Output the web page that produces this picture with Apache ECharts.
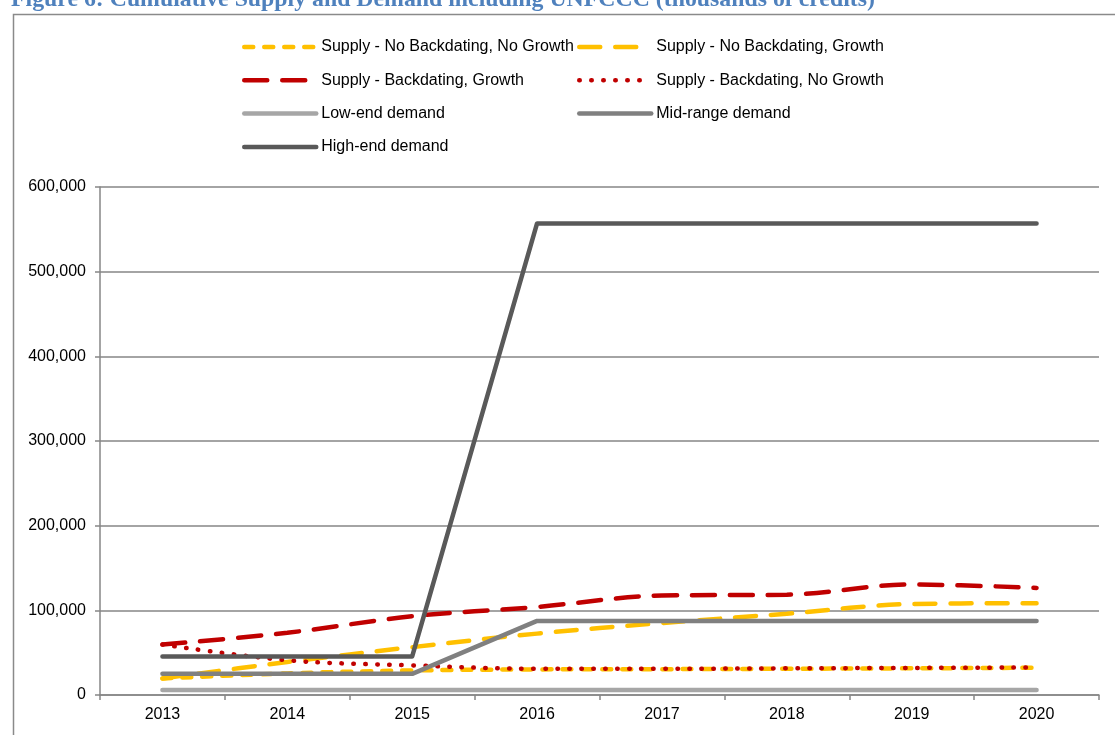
<!DOCTYPE html>
<html>
<head>
<meta charset="utf-8">
<script src="https://cdn.jsdelivr.net/npm/echarts@6/dist/echarts.min.js"></script>
<style>
  html, body { margin: 0; padding: 0; background: #ffffff; }
  #chart { width: 1115px; height: 735px; }
</style>
</head>
<body>
<div id="chart"></div>
<script>
// Years on the category axis
const years = ['2013', '2014', '2015', '2016', '2017', '2018', '2019', '2020'];

// Cumulative supply scenarios (thousands of credits)
const supplyNoBackNoGrowth = [19600, 25500, 29000, 30200, 30500, 31000, 31500, 32200];
const supplyNoBackGrowth   = [19600, 39000, 56500, 72500, 85000, 96000, 107500, 108500];
const supplyBackGrowth     = [59600, 73500, 93000, 104000, 117500, 118500, 130500, 126500];
const supplyBackNoGrowth   = [59600, 41000, 35000, 31000, 31000, 31500, 32000, 32500];

// Demand scenarios (thousands of credits)
const demandLow  = [5900, 5900, 5900, 5900, 5900, 5900, 5900, 5900];
const demandMid  = [25000, 25000, 25000, 87500, 87500, 87500, 87500, 87500];
const demandHigh = [45500, 45500, 45500, 557000, 557000, 557000, 557000, 557000];

// Series names used in the legend
const names = [
  'Supply - No Backdating, No Growth',
  'Supply - No Backdating, Growth',
  'Supply - Backdating, Growth',
  'Supply - Backdating, No Growth',
  'Low-end demand',
  'Mid-range demand',
  'High-end demand'
];

const titleText = 'Figure 6: Cumulative Supply and Demand including UNFCCC (thousands of credits)';

const YELLOW = '#FFC000';
const RED = '#C00000';
const axisGray = '#868686';
const font = 'Liberation Sans, Arial, sans-serif';

function supply(name, data, color, dash) {
  return {
    name: name, type: 'line', data: data, smooth: 0.35,
    symbol: 'none',
    lineStyle: { color: color, width: 4.5, type: dash, cap: 'round' },
    itemStyle: { color: color }
  };
}
function demand(name, data, color) {
  return {
    name: name, type: 'line', data: data, smooth: false,
    symbol: 'none',
    lineStyle: { color: color, width: 4.5, type: 'solid', cap: 'round', join: 'round' },
    itemStyle: { color: color }
  };
}

// Two stacked legend columns, drawn as plain line samples (marker hidden)
const legendCommon = {
  orient: 'vertical',
  top: 39,
  padding: 0,
  itemWidth: 72,
  itemHeight: 16,
  itemGap: 17.3,
  itemStyle: { opacity: 0 },
  lineStyle: { width: 4.5, cap: 'round' },
  textStyle: { fontFamily: font, fontSize: 16, color: '#000000' },
  selectedMode: false
};

const chart = echarts.init(document.getElementById('chart'), null, { renderer: 'canvas' });
chart.setOption({
  backgroundColor: '#ffffff',
  animation: false,
  graphic: [
    {
      type: 'rect', left: 11, top: 12,
      shape: { x: 0, y: 0, width: 1200, height: 800 },
      style: { fill: 'none', stroke: '#8a8a8a', lineWidth: 1.5 },
      z: -1
    },
    {
      type: 'text', left: 11, top: -12,
      style: {
        text: titleText,
        font: 'bold 23.8px "Liberation Serif", "Times New Roman", serif',
        fill: '#4F81BD'
      }
    }
  ],
  legend: [
    Object.assign({}, legendCommon, { left: 242, data: [names[0], names[2], names[4], names[6]] }),
    Object.assign({}, legendCommon, { left: 577, data: [names[1], names[3], names[5]] })
  ],
  grid: { left: 100, right: 16, top: 187, bottom: 40, containLabel: false },
  xAxis: {
    type: 'category', data: years, boundaryGap: true,
    axisLine: { lineStyle: { color: axisGray, width: 1.5 } },
    axisTick: { show: true, length: 5, alignWithLabel: false, lineStyle: { color: axisGray, width: 1.5 } },
    axisLabel: { fontFamily: font, fontSize: 16, color: '#000000', margin: 12 },
    splitLine: { show: false }
  },
  yAxis: {
    type: 'value', min: 0, max: 600000, interval: 100000,
    axisLine: { show: true, lineStyle: { color: axisGray, width: 1.5 } },
    axisTick: { show: true, length: 5, lineStyle: { color: axisGray, width: 1.5 } },
    axisLabel: {
      fontFamily: font, fontSize: 16, color: '#000000', margin: 14,
      formatter: function (v) { return v.toLocaleString('en-US'); }
    },
    splitLine: { show: true, lineStyle: { color: axisGray, width: 1.5 } }
  },
  series: [
    supply(names[0], supplyNoBackNoGrowth, YELLOW, [9, 11]),
    supply(names[1], supplyNoBackGrowth, YELLOW, [21, 15]),
    supply(names[2], supplyBackGrowth, RED, [23, 15]),
    supply(names[3], supplyBackNoGrowth, RED, [0.5, 11.5]),
    demand(names[4], demandLow, '#A6A6A6'),
    demand(names[5], demandMid, '#808080'),
    demand(names[6], demandHigh, '#595959')
  ]
});
</script>
</body>
</html>
